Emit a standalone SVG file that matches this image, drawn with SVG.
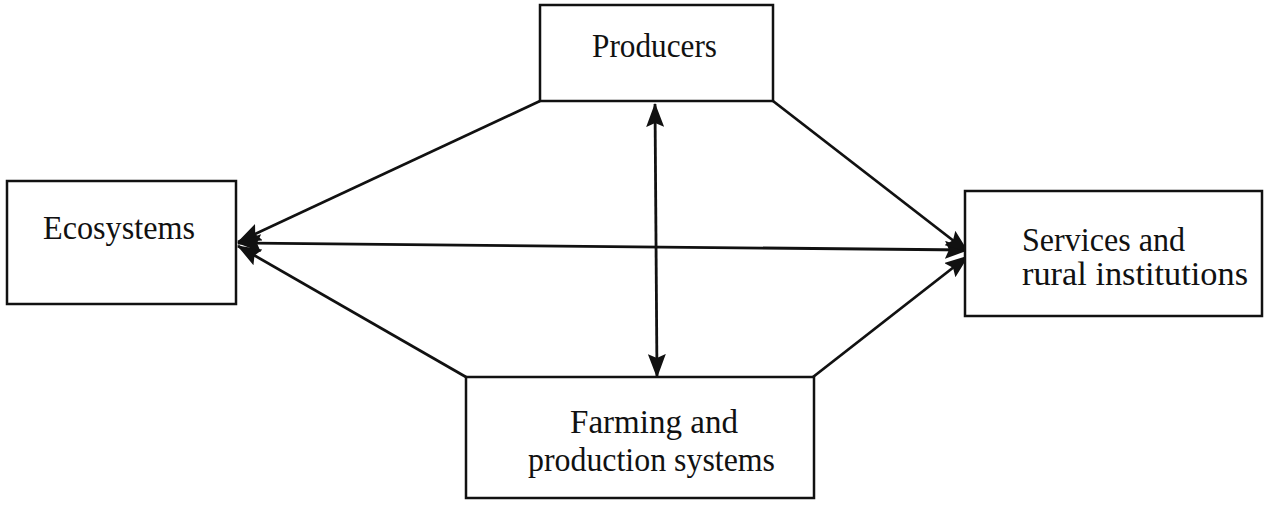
<svg xmlns="http://www.w3.org/2000/svg" width="1274" height="506" viewBox="0 0 1274 506">
  <defs>
    <style>
      .box { fill: #ffffff; stroke: #111111; stroke-width: 2.5; }
      .lbl { font-family: "Liberation Serif", "Times New Roman", serif; font-size: 34px; fill: #111111; }
      .conn { fill: none; stroke: #111111; stroke-width: 2.8; }
    </style>
    <marker id="ah" viewBox="0 0 24 18" refX="23" refY="9" markerWidth="24" markerHeight="18" markerUnits="userSpaceOnUse" orient="auto-start-reverse">
      <path d="M0,0 L24,9 L0,18 L4,9 z" fill="#111111"/>
    </marker>
  </defs>
  <rect width="1274" height="506" fill="#ffffff"/>

  <g id="connectors">
    <line class="conn" x1="540" y1="101" x2="238" y2="242" marker-end="url(#ah)"/>
    <line class="conn" x1="466" y1="377" x2="238" y2="246" marker-end="url(#ah)"/>
    <line class="conn" x1="238" y1="243" x2="968" y2="250" marker-start="url(#ah)" marker-end="url(#ah)"/>
    <line class="conn" x1="773" y1="101" x2="968" y2="252" marker-end="url(#ah)"/>
    <line class="conn" x1="813" y1="377" x2="968" y2="256" marker-end="url(#ah)"/>
    <line class="conn" x1="655" y1="104" x2="657" y2="377" marker-start="url(#ah)" marker-end="url(#ah)"/>
  </g>

  <g id="producers">
    <rect class="box" x="540" y="5" width="233" height="96"/>
    <text class="lbl" x="592" y="57" textLength="125" lengthAdjust="spacingAndGlyphs">Producers</text>
  </g>

  <g id="ecosystems">
    <rect class="box" x="7" y="181" width="229" height="123"/>
    <text class="lbl" x="43" y="239" textLength="152" lengthAdjust="spacingAndGlyphs">Ecosystems</text>
  </g>

  <g id="services">
    <rect class="box" x="965" y="191" width="297" height="125"/>
    <text class="lbl" x="1022" y="251" textLength="163" lengthAdjust="spacingAndGlyphs">Services and</text>
    <text class="lbl" x="1022" y="285" textLength="226" lengthAdjust="spacingAndGlyphs">rural institutions</text>
  </g>

  <g id="farming">
    <rect class="box" x="466" y="377" width="348" height="121"/>
    <text class="lbl" x="570" y="433" textLength="168" lengthAdjust="spacingAndGlyphs">Farming and</text>
    <text class="lbl" x="528" y="471" textLength="247" lengthAdjust="spacingAndGlyphs">production systems</text>
  </g>
</svg>
